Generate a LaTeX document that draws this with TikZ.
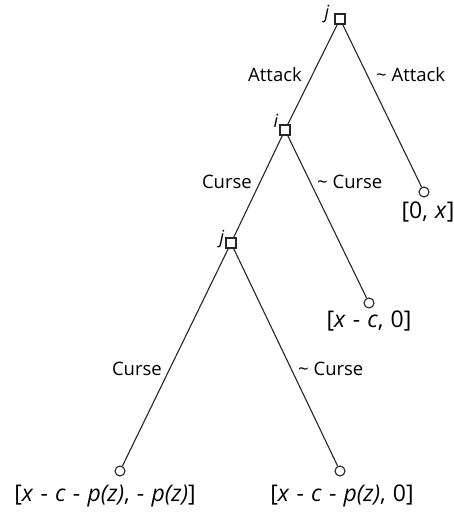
\documentclass[tikz,border=0pt]{standalone}
\usepackage{fontspec}
\setmainfont{Open Sans}
\newfontfamily\payfont[WordSpace=1.2]{Open Sans}
\begin{document}
\begin{tikzpicture}[x=1pt,y=-1pt,
  dec/.style={draw=black!85, rectangle, minimum size=10pt, inner sep=0pt, line width=1.1pt},
  term/.style={draw=black!85, circle, minimum size=10pt, inner sep=0pt, line width=1.1pt},
  branch/.style={draw=black!85, line width=1.1pt},
  lab/.style={inner sep=0pt, font=\fontsize{18.5}{20}\selectfont},
  pay/.style={inner sep=0pt, font=\payfont\fontsize{23}{26}\selectfont},
  pl/.style={inner sep=0pt, font=\fontsize{18}{20}\selectfont\itshape}]
\useasboundingbox (0,0) rectangle (454,516);
% decision nodes
\node[dec] (j1) at (340,19) {};
\node[dec] (i1) at (285,130) {};
\node[dec] (j2) at (231,243) {};
% terminal nodes
\node[term] (t1) at (424,192) {};
\node[term] (t2) at (369,303) {};
\node[term] (t3) at (120,471) {};
\node[term] (t4) at (340,471) {};
% player labels
\node[pl] (pj1) at (327,14) {j};
\node[pl] (pi1) at (276,121) {i};
\node[pl] (pj2) at (222,239) {j};
% branches
\draw[branch] (j1) -- (i1);
\draw[branch] (j1) -- (t1);
\draw[branch] (i1) -- (j2);
\draw[branch] (i1) -- (t2);
\draw[branch] (j2) -- (t3);
\draw[branch] (j2) -- (t4);
% action labels
\node[lab, anchor=east] (a1) at (302,75) {Attack};
\node[lab, anchor=west] (a2) at (376,75) {\textasciitilde\ Attack};
\node[lab, anchor=east] (a3) at (252,182) {Curse};
\node[lab, anchor=west] (a4) at (317,182) {\textasciitilde\ Curse};
\node[lab, anchor=east] (a5) at (162,369) {Curse};
\node[lab, anchor=west] (a6) at (298,369) {\textasciitilde\ Curse};
% payoffs
\node[pay] (p1) at (428,212) {[0, \textit{x}]};
\node[pay] (p2) at (369,321) {[\textit{x} - \textit{c}, 0]};
\node[pay] (p3) at (105,496) {[\textit{x} - \textit{c} - \textit{p(z)}, - \textit{p(z)}]};
\node[pay] (p4) at (342,496) {[\textit{x} - \textit{c} - \textit{p(z)}, 0]};
\end{tikzpicture}
\end{document}
